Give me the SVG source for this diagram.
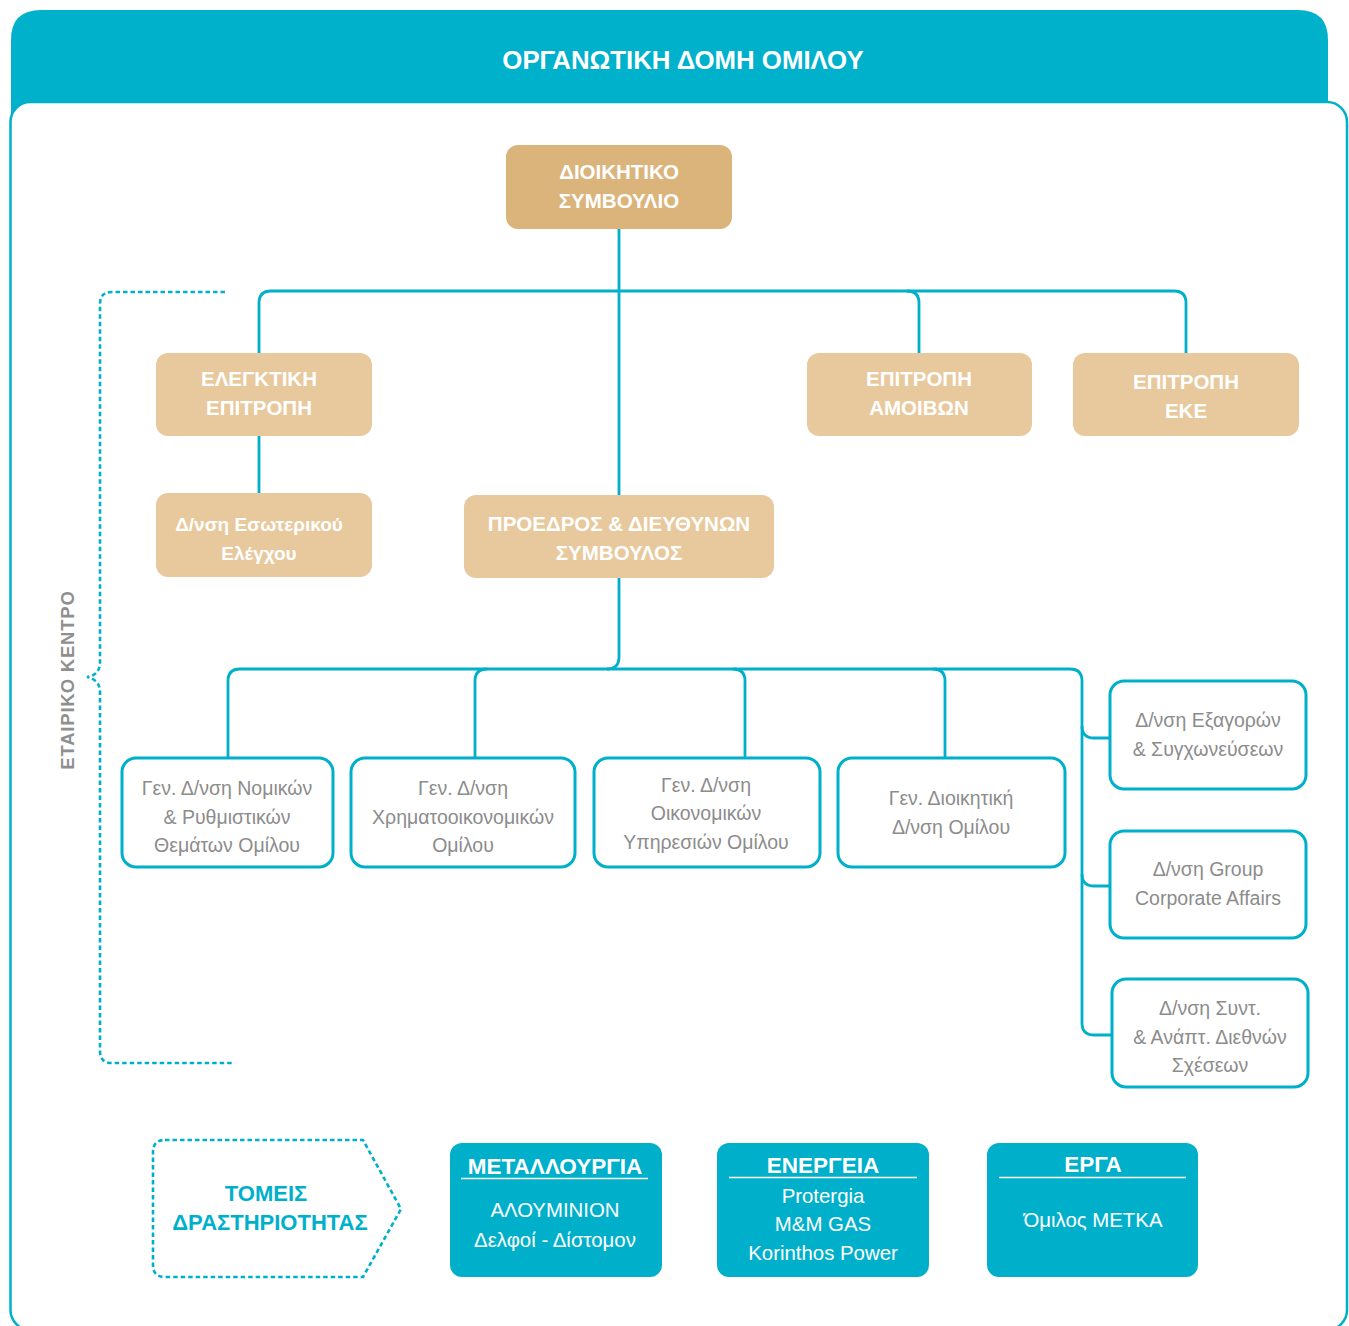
<svg xmlns="http://www.w3.org/2000/svg" width="1349" height="1326" viewBox="0 0 1349 1326">
<style>
.tealtxt{font-family:"Liberation Sans",Arial,sans-serif;font-weight:bold;fill:#00B0CB;text-anchor:middle}
.wb{font-family:"Liberation Sans",Arial,sans-serif;font-weight:bold;fill:#ffffff;text-anchor:middle;font-size:20.5px}
.wm{font-family:"Liberation Sans",Arial,sans-serif;font-weight:bold;fill:#ffffff;text-anchor:middle;font-size:19px}
.wh{font-family:"Liberation Sans",Arial,sans-serif;font-weight:bold;fill:#ffffff;text-anchor:middle;font-size:22.5px}
.wr{font-family:"Liberation Sans",Arial,sans-serif;fill:#ffffff;text-anchor:middle;font-size:20.4px}
.gr{font-family:"Liberation Sans",Arial,sans-serif;fill:#8C8C8C;text-anchor:middle;font-size:19.5px}
.dark{fill:#DBB47C}
.light{fill:#E8C99D}
.wbox{fill:#ffffff;stroke:#00B0CB;stroke-width:3}
.tbox{fill:#00B0CB}
.conn{fill:none;stroke:#00B0CB;stroke-width:2.8}
.dash{fill:none;stroke:#00B0CB;stroke-width:2.6;stroke-dasharray:4.5 3}
.ul{stroke:#ffffff;stroke-width:1.5}
</style>
<!-- header and frame -->
<path d="M11,125 V40 Q11,10 41,10 H1298 Q1328,10 1328,40 V125 Z" fill="#00B1CC"/>
<rect x="10.5" y="102" width="1336.5" height="1228" rx="20" fill="#ffffff" stroke="#00B0CB" stroke-width="2.5"/>
<text x="683" y="69" font-family="Liberation Sans, Arial, sans-serif" font-weight="bold" font-size="25.8" fill="#ffffff" text-anchor="middle">ΟΡΓΑΝΩΤΙΚΗ ΔΟΜΗ ΟΜΙΛΟΥ</text>

<!-- corporate centre bracket -->
<g id="corporate-centre">
<path class="dash" d="M225,292 H112 Q100,292 100,304 V662 Q100,675 87,677 Q100,680 100,692 V1051 Q100,1063 112,1063 H232"/>
<text transform="translate(74,680) rotate(-90)" font-family="Liberation Sans, Arial, sans-serif" font-weight="bold" font-size="18.5" fill="#8F8F8F" text-anchor="middle" letter-spacing="0.8">ΕΤΑΙΡΙΚΟ ΚΕΝΤΡΟ</text>
</g>

<!-- connectors -->
<g id="connectors">
<path class="conn" d="M619,229 V495"/>
<path class="conn" d="M259,353 V303 Q259,291 271,291 H1174 Q1186,291 1186,303 V353"/>
<path class="conn" d="M907,291 Q919,291 919,303 V353"/>
<path class="conn" d="M259,436 V493"/>
<path class="conn" d="M619,578 V657 Q619,669 607,669"/>
<path class="conn" d="M228,758 V681 Q228,669 240,669 H1070 Q1082,669 1082,681 V1023 Q1082,1035 1094,1035 H1112"/>
<path class="conn" d="M487,669 Q475,669 475,681 V758"/>
<path class="conn" d="M733,669 Q745,669 745,681 V758"/>
<path class="conn" d="M933,669 Q945,669 945,681 V758"/>
<path class="conn" d="M1082,726 Q1082,738 1094,738 H1110"/>
<path class="conn" d="M1082,874 Q1082,886 1094,886 H1110"/>
</g>

<!-- board -->
<g id="board">
<rect class="dark" x="506" y="145" width="226" height="84" rx="12"/>
<text class="wb" x="619" y="179">ΔΙΟΙΚΗΤΙΚΟ</text>
<text class="wb" x="619" y="208">ΣΥΜΒΟΥΛΙΟ</text>
</g>
<g id="audit-committee">
<rect class="light" x="156" y="353" width="216" height="83" rx="12"/>
<text class="wb" x="259" y="386">ΕΛΕΓΚΤΙΚΗ</text>
<text class="wb" x="259" y="415">ΕΠΙΤΡΟΠΗ</text>
</g>
<g id="remuneration-committee">
<rect class="light" x="807" y="353" width="225" height="83" rx="12"/>
<text class="wb" x="919" y="386">ΕΠΙΤΡΟΠΗ</text>
<text class="wb" x="919" y="415">ΑΜΟΙΒΩΝ</text>
</g>
<g id="csr-committee">
<rect class="light" x="1073" y="353" width="226" height="83" rx="12"/>
<text class="wb" x="1186" y="389">ΕΠΙΤΡΟΠΗ</text>
<text class="wb" x="1186" y="418">ΕΚΕ</text>
</g>
<g id="internal-audit">
<rect class="light" x="156" y="493" width="216" height="84" rx="12"/>
<text class="wm" x="259" y="531">Δ/νση Εσωτερικού</text>
<text class="wm" x="259" y="560">Ελέγχου</text>
</g>
<g id="ceo">
<rect class="light" x="464" y="495" width="310" height="83" rx="12"/>
<text class="wb" x="619" y="531">ΠΡΟΕΔΡΟΣ &amp; ΔΙΕΥΘΥΝΩΝ</text>
<text class="wb" x="619" y="560">ΣΥΜΒΟΥΛΟΣ</text>
</g>

<!-- general directorates -->
<g id="legal">
<rect class="wbox" x="122" y="758" width="211" height="109" rx="14"/>
<text class="gr" x="227" y="795">Γεν. Δ/νση Νομικών</text>
<text class="gr" x="227" y="824">&amp; Ρυθμιστικών</text>
<text class="gr" x="227" y="852">Θεμάτων Ομίλου</text>
</g>
<g id="finance">
<rect class="wbox" x="351" y="758" width="224" height="109" rx="14"/>
<text class="gr" x="463" y="795">Γεν. Δ/νση</text>
<text class="gr" x="463" y="824">Χρηματοοικονομικών</text>
<text class="gr" x="463" y="852">Ομίλου</text>
</g>
<g id="economic-services">
<rect class="wbox" x="594" y="758" width="226" height="109" rx="14"/>
<text class="gr" x="706" y="792">Γεν. Δ/νση</text>
<text class="gr" x="706" y="820">Οικονομικών</text>
<text class="gr" x="706" y="849">Υπηρεσιών Ομίλου</text>
</g>
<g id="administration">
<rect class="wbox" x="838" y="758" width="227" height="109" rx="14"/>
<text class="gr" x="951" y="805">Γεν. Διοικητική</text>
<text class="gr" x="951" y="834">Δ/νση Ομίλου</text>
</g>
<g id="mergers">
<rect class="wbox" x="1110" y="681" width="196" height="108" rx="14"/>
<text class="gr" x="1208" y="727">Δ/νση Εξαγορών</text>
<text class="gr" x="1208" y="756">&amp; Συγχωνεύσεων</text>
</g>
<g id="corporate-affairs">
<rect class="wbox" x="1110" y="831" width="196" height="107" rx="14"/>
<text class="gr" x="1208" y="876">Δ/νση Group</text>
<text class="gr" x="1208" y="905">Corporate Affairs</text>
</g>
<g id="international">
<rect class="wbox" x="1112" y="979" width="196" height="108" rx="14"/>
<text class="gr" x="1210" y="1015">Δ/νση Συντ.</text>
<text class="gr" x="1210" y="1044">&amp; Ανάπτ. Διεθνών</text>
<text class="gr" x="1210" y="1072">Σχέσεων</text>
</g>

<!-- business sectors -->
<g id="sectors-label">
<path class="dash" d="M165,1140 H363 L401,1209 L363,1277 H165 Q153,1277 153,1265 V1152 Q153,1140 165,1140 Z"/>
<text class="tealtxt" x="266" y="1201" font-size="22">ΤΟΜΕΙΣ</text>
<text class="tealtxt" x="270" y="1230" font-size="22">ΔΡΑΣΤΗΡΙΟΤΗΤΑΣ</text>
</g>
<g id="metallurgy">
<rect class="tbox" x="450" y="1143" width="212" height="134" rx="12"/>
<text class="wh" x="555" y="1174">ΜΕΤΑΛΛΟΥΡΓΙΑ</text>
<line class="ul" x1="461" y1="1178.5" x2="648" y2="1178.5"/>
<text class="wr" x="555" y="1217">ΑΛΟΥΜΙΝΙΟΝ</text>
<text class="wr" x="555" y="1247">Δελφοί - Δίστομον</text>
</g>
<g id="energy">
<rect class="tbox" x="717" y="1143" width="212" height="134" rx="12"/>
<text class="wh" x="823" y="1173">ΕΝΕΡΓΕΙΑ</text>
<line class="ul" x1="729" y1="1177.5" x2="917" y2="1177.5"/>
<text class="wr" x="823" y="1203">Protergia</text>
<text class="wr" x="823" y="1231">M&amp;M GAS</text>
<text class="wr" x="823" y="1260">Korinthos Power</text>
</g>
<g id="projects">
<rect class="tbox" x="987" y="1143" width="211" height="134" rx="12"/>
<text class="wh" x="1093" y="1172">ΕΡΓΑ</text>
<line class="ul" x1="999" y1="1177.5" x2="1186" y2="1177.5"/>
<text class="wr" x="1093" y="1227">Όμιλος ΜΕΤΚΑ</text>
</g>
</svg>
